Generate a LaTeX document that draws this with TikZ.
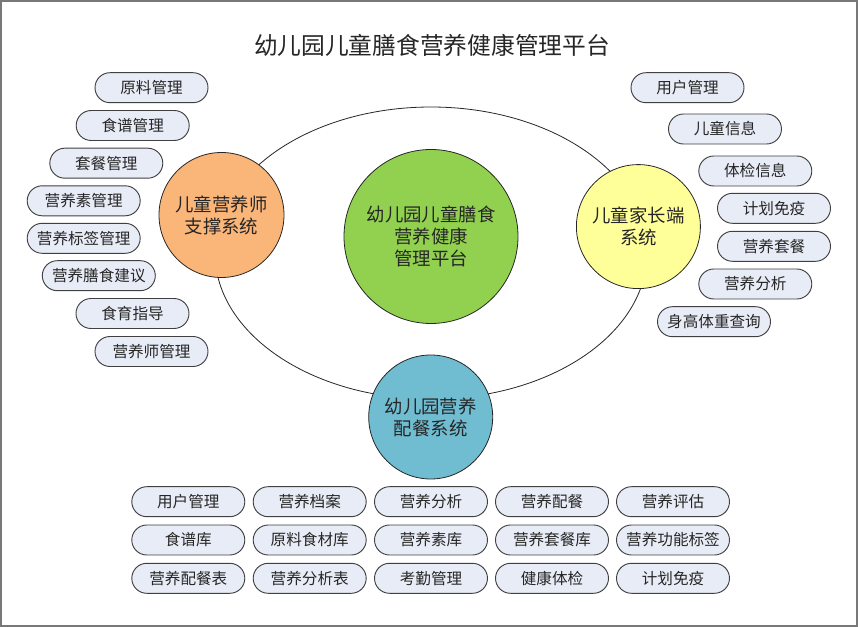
\documentclass[tikz,border=0pt]{standalone}
\usepackage{fontspec}
\usepackage{tikz}
\usetikzlibrary{shapes,positioning}
\setmainfont{Noto Sans CJK SC}
\definecolor{kgorange}{RGB}{250,181,121}
\definecolor{kggreen}{RGB}{146,208,80}
\definecolor{kgyellow}{RGB}{255,255,153}
\definecolor{kgteal}{RGB}{112,188,208}
\definecolor{kgpill}{RGB}{232,236,246}
\definecolor{kgline}{RGB}{64,64,64}
\definecolor{kgframe}{RGB}{120,120,120}
\tikzstyle{module} = [rounded rectangle, minimum width=84.75pt, minimum height=22.5pt, inner sep=0pt, draw=kgline, fill=kgpill, line width=0.7pt, font=\fontsize{11.7}{14}\selectfont, text=black!85]
\tikzstyle{subsystem} = [circle, minimum size=93pt, inner sep=0pt, draw=black!85, line width=0.6pt, align=center, font=\fontsize{13.8}{16.5}\selectfont, text=black!85]
\begin{document}
\begin{tikzpicture}[x=0.75pt, y=-0.75pt]
    \useasboundingbox (0,0) rectangle (858,627);
    \draw[kgframe, line width=1.2pt] (1,1) rectangle (857,626);

    % Title
    \node[font=\fontsize{17.8}{20}\selectfont, text=black!85] (title) at (432,45) {幼儿园儿童膳食营养健康管理平台};

    % Ring behind the subsystems
    \draw[line width=0.6pt, black!85] (431,253) ellipse [x radius=162pt, y radius=109.5pt];

    % Platform core
    \node[subsystem, minimum size=130.5pt, fill=kggreen] (platform) at (431,236.5) {幼儿园儿童膳食\\营养健康\\管理平台};

    % Nutritionist subsystem
    \node[subsystem, minimum size=93.75pt, fill=kgorange] (nutritionist) at (221.5,215) {儿童营养师\\支撑系统};
    \node[module] (n1) at (151.5,87.7) {原料管理};
    \node[module] (n2) at (132.7,125.5) {食谱管理};
    \node[module] (n3) at (106.3,163.2) {套餐管理};
    \node[module] (n4) at (83.7,200.8) {营养素管理};
    \node[module] (n5) at (83.7,238.3) {营养标签管理};
    \node[module] (n6) at (98.8,275.7) {营养膳食建议};
    \node[module] (n7) at (132.5,313.5) {食育指导};
    \node[module] (n8) at (151.5,351.5) {营养师管理};

    % Parent subsystem
    \node[subsystem, fill=kgyellow] (parent) at (638.4,226.6) {儿童家长端\\系统};
    \node[module] (p1) at (687.5,87.7) {用户管理};
    \node[module] (p2) at (725,129) {儿童信息};
    \node[module] (p3) at (755.3,171) {体检信息};
    \node[module] (p4) at (774,208.3) {计划免疫};
    \node[module] (p5) at (774,246.3) {营养套餐};
    \node[module] (p6) at (755.3,284) {营养分析};
    \node[module] (p7) at (714,321.7) {身高体重查询};

    % Catering subsystem
    \node[subsystem, fill=kgteal] (catering) at (430.7,417) {幼儿园营养\\配餐系统};
    \node[module] (c11) at (188.3,501.7) {用户管理};
    \node[module] (c12) at (309.7,501.7) {营养档案};
    \node[module] (c13) at (431,501.7) {营养分析};
    \node[module] (c14) at (552,501.7) {营养配餐};
    \node[module] (c15) at (673,501.7) {营养评估};
    \node[module] (c21) at (188.3,540) {食谱库};
    \node[module] (c22) at (309.7,540) {原料食材库};
    \node[module] (c23) at (431,540) {营养素库};
    \node[module] (c24) at (552,540) {营养套餐库};
    \node[module] (c25) at (673,540) {营养功能标签};
    \node[module] (c31) at (188.3,578.3) {营养配餐表};
    \node[module] (c32) at (309.7,578.3) {营养分析表};
    \node[module] (c33) at (431,578.3) {考勤管理};
    \node[module] (c34) at (552,578.3) {健康体检};
    \node[module] (c35) at (673,578.3) {计划免疫};
\end{tikzpicture}
\end{document}
